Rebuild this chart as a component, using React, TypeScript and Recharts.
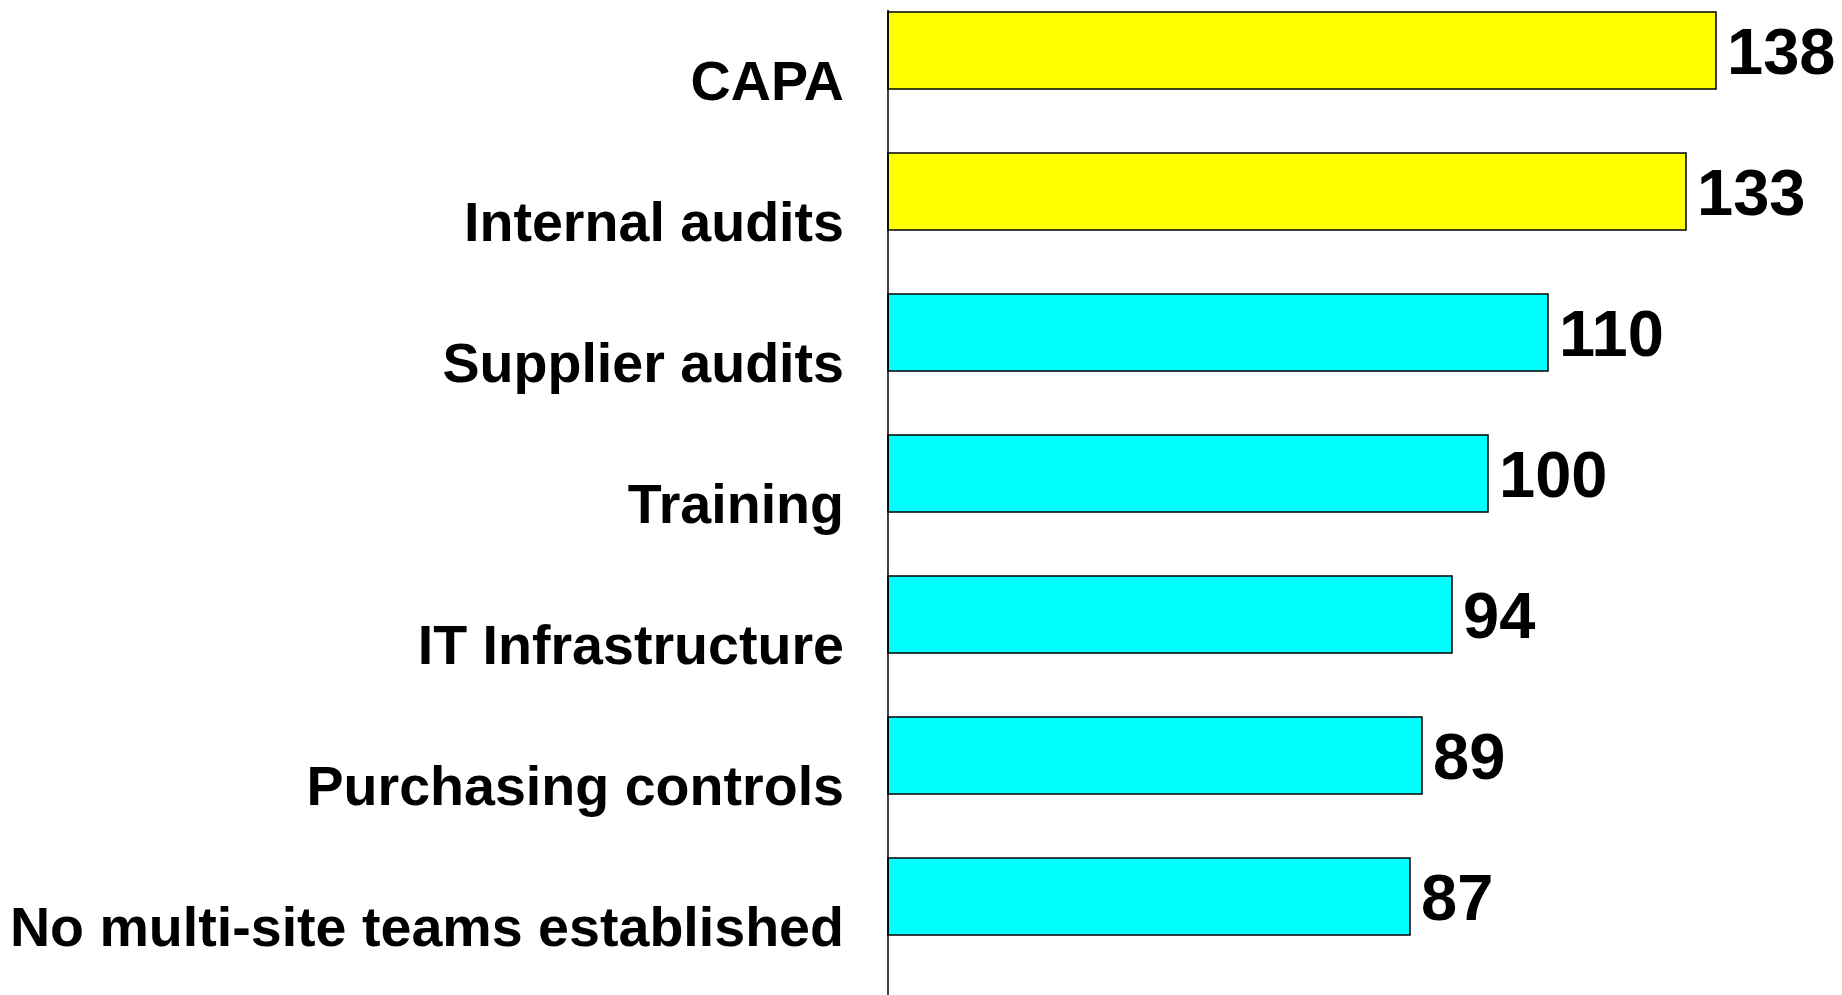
import React from "react";
import { BarChart, Bar, XAxis, YAxis, LabelList, Cell } from "recharts";

const categories = [
  "CAPA",
  "Internal audits",
  "Supplier audits",
  "Training",
  "IT Infrastructure",
  "Purchasing controls",
  "No multi-site teams established",
];
const counts = [138, 133, 110, 100, 94, 89, 87];
const highlighted = ["CAPA", "Internal audits"];

const data = categories.map((name, i) => ({ name, value: counts[i] }));

const FONT = '"Liberation Sans", Arial, sans-serif';

const App = () => {
  return (
    <div style={{ position: "absolute", left: 0, top: 0 }}>
      <BarChart
        width={1842}
        height={995}
        data={data}
        layout="vertical"
        barGap={0}
        margin={{ top: 10, right: 54, left: 0, bottom: -2 }}
      >
        <XAxis type="number" domain={[0, 150]} hide />
        <YAxis
          type="category"
          dataKey="name"
          width={888}
          axisLine={{ stroke: "#000000", strokeWidth: 1.5 }}
          tickLine={false}
          tickSize={0}
          tickMargin={44}
          tick={{
            fill: "#000000",
            fontSize: 55.6,
            fontWeight: "bold",
            fontFamily: FONT,
          }}
        />
        <Bar
          dataKey="value"
          barSize={77}
          stroke="#000000"
          strokeWidth={1.5}
          isAnimationActive={false}
        >
          {data.map((d) => (
            <Cell
              key={d.name}
              fill={highlighted.includes(d.name) ? "#FFFF00" : "#00FFFF"}
            />
          ))}
          <LabelList
            dataKey="value"
            position="right"
            offset={11}
            fill="#000000"
            style={{ fontSize: 65, fontWeight: "bold", fontFamily: FONT }}
          />
        </Bar>
        {/* empty spacer series so the bars sit at the top of each band */}
        <Bar dataKey="spacer" barSize={60} isAnimationActive={false} />
      </BarChart>
    </div>
  );
};

export default App;
